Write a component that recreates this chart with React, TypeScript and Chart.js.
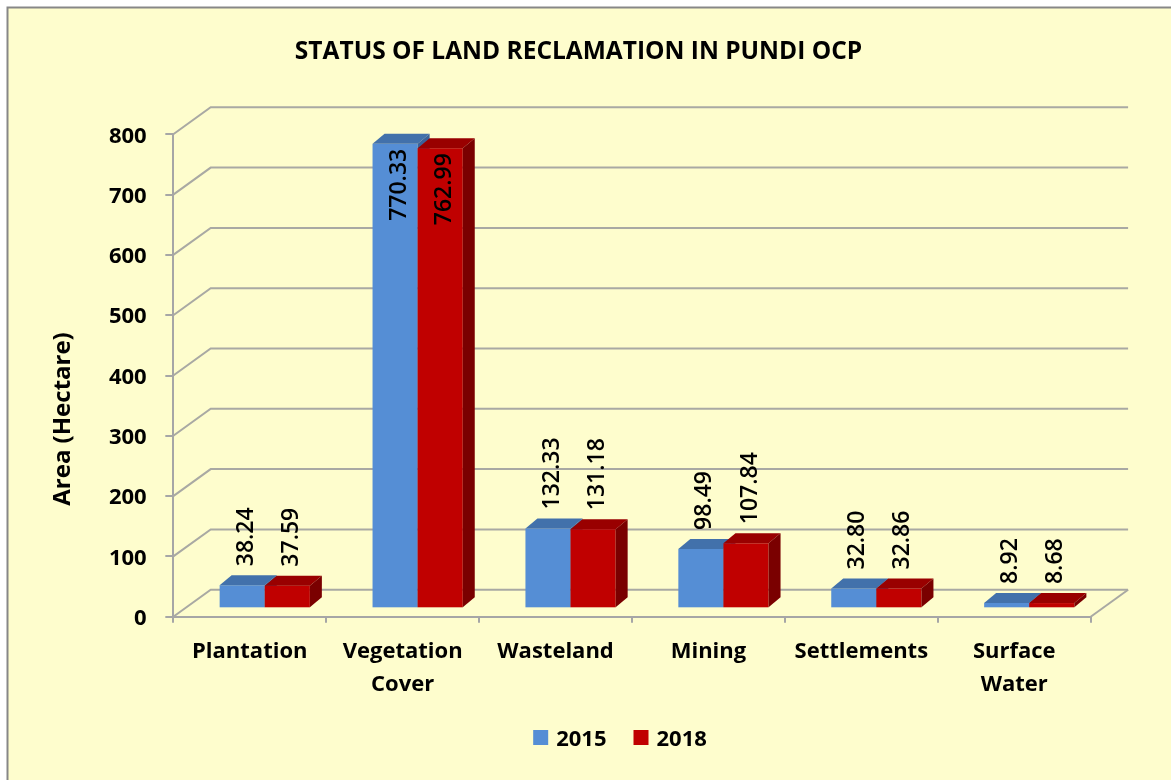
import React, { useEffect, useRef } from 'react';
import { Chart, registerables } from 'chart.js';

Chart.register(...registerables);

// ---------- data ----------
const categories: (string | string[])[] = [
  'Plantation',
  ['Vegetation', 'Cover'],
  'Wasteland',
  'Mining',
  'Settlements',
  ['Surface', 'Water'],
];
const seriesNames = ['2015', '2018'];
const values2015 = [38.24, 770.33, 132.33, 98.49, 32.8, 8.92];
const values2018 = [37.59, 762.99, 131.18, 107.84, 32.86, 8.68];
const yMin = 0;
const yMax = 800;
const yStep = 100;
const chartTitle = 'STATUS OF LAND RECLAMATION IN PUNDI OCP';
const yAxisTitle = 'Area (Hectare)';

// ---------- styles ----------
const FONT = "'Open Sans', 'Noto Sans', 'DejaVu Sans', sans-serif";
const BG = '#FEFDCD';
const BORDER = '#878787';
const GRID = '#a9a9a3';
const AXIS = '#a6a6a6';
const SERIES_STYLE = [
  { front: '#558ED5', top: '#4271AB', side: '#3A629A' },
  { front: '#C00000', top: '#990000', side: '#7A0000' },
];
const WALL_DX = 37.4;
const WALL_DY = 27;
const BAR_SHIFT_X = 15;
const BAR_SHIFT_Y = 8.4;
const BAR_DX = 12;
const BAR_DY = 10;
const LABEL_GAP = 19;

const threeDPlugin = {
  id: 'threeD',
  beforeDraw(chart: any) {
    const { ctx, width, height } = chart;
    ctx.save();
    ctx.fillStyle = '#ffffff';
    ctx.fillRect(0, 0, width, height);
    ctx.fillStyle = BG;
    ctx.fillRect(7, 7, width, height);
    ctx.strokeStyle = BORDER;
    ctx.lineWidth = 2;
    ctx.beginPath();
    ctx.moveTo(7.5, height + 5);
    ctx.lineTo(7.5, 7.5);
    ctx.lineTo(width + 5, 7.5);
    ctx.stroke();
    ctx.restore();
  },
  beforeDatasetsDraw(chart: any) {
    const { ctx, chartArea, scales } = chart;
    const y = scales.y;
    ctx.save();
    // back & side wall gridlines
    ctx.strokeStyle = GRID;
    ctx.lineWidth = 2;
    y.ticks.forEach((t: any) => {
      const py = y.getPixelForValue(t.value);
      ctx.beginPath();
      ctx.moveTo(chartArea.left, py);
      ctx.lineTo(chartArea.left + WALL_DX, py - WALL_DY);
      ctx.lineTo(chartArea.right + WALL_DX, py - WALL_DY);
      ctx.stroke();
    });
    const p0 = y.getPixelForValue(0);
    ctx.beginPath();
    ctx.moveTo(chartArea.right, p0);
    ctx.lineTo(chartArea.right + WALL_DX, p0 - WALL_DY);
    ctx.stroke();

    // 3D bars
    const n = chart.data.labels.length;
    const nd = chart.data.datasets.length;
    const boxes: any[] = [];
    for (let i = 0; i < n; i++) {
      for (let d = 0; d < nd; d++) {
        const el = chart.getDatasetMeta(d).data[i];
        const { x, y: yt, base, width } = el.getProps(['x', 'y', 'base', 'width'], true);
        const st = SERIES_STYLE[d];
        const x0 = x - width / 2 + BAR_SHIFT_X;
        const x1 = x + width / 2 + BAR_SHIFT_X;
        const top = yt - BAR_SHIFT_Y;
        const bot = base - BAR_SHIFT_Y;
        ctx.fillStyle = st.front;
        ctx.fillRect(x0, top, x1 - x0, bot - top);
        ctx.fillStyle = st.top;
        ctx.beginPath();
        ctx.moveTo(x0, top);
        ctx.lineTo(x0 + BAR_DX, top - BAR_DY);
        ctx.lineTo(x1 + BAR_DX, top - BAR_DY);
        ctx.lineTo(x1, top);
        ctx.closePath();
        ctx.fill();
        ctx.fillStyle = st.side;
        ctx.beginPath();
        ctx.moveTo(x1, top);
        ctx.lineTo(x1 + BAR_DX, top - BAR_DY);
        ctx.lineTo(x1 + BAR_DX, bot - BAR_DY);
        ctx.lineTo(x1, bot);
        ctx.closePath();
        ctx.fill();
        boxes.push({ cx: (x0 + x1) / 2 + 4, top, value: chart.data.datasets[d].data[i] });
      }
    }

    // value labels (rotated)
    ctx.font = `600 23px ${FONT}`;
    ctx.fillStyle = '#000';
    ctx.textBaseline = 'middle';
    boxes.forEach((b) => {
      const txt = Number(b.value).toFixed(2);
      const w = ctx.measureText(txt).width;
      const start = b.top - LABEL_GAP;
      ctx.save();
      if (start - w < chartArea.top - WALL_DY) {
        ctx.translate(b.cx, b.top + 5);
        ctx.rotate(-Math.PI / 2);
        ctx.textAlign = 'right';
      } else {
        ctx.translate(b.cx, start);
        ctx.rotate(-Math.PI / 2);
        ctx.textAlign = 'left';
      }
      ctx.fillText(txt, 0, 0);
      ctx.restore();
    });
    ctx.restore();
    return false;
  },
  afterDraw(chart: any) {
    const { ctx } = chart;
    ctx.save();
    ctx.fillStyle = '#000';
    // title
    ctx.font = `bold 24.5px ${FONT}`;
    ctx.textAlign = 'center';
    ctx.textBaseline = 'alphabetic';
    ctx.fillText(chartTitle, 578.5, 58.5);
    // y-axis title
    ctx.save();
    ctx.font = `bold 24px ${FONT}`;
    ctx.translate(70, 419);
    ctx.rotate(-Math.PI / 2);
    ctx.textAlign = 'center';
    ctx.fillText(yAxisTitle, 0, 0);
    ctx.restore();
    // legend
    ctx.font = `bold 22px ${FONT}`;
    ctx.textAlign = 'left';
    const box = 15;
    const gap = 8;
    const spacing = 27;
    const items = chart.data.datasets.map((ds: any) => ({
      text: ds.label,
      color: ds.backgroundColor,
      w: ctx.measureText(ds.label).width,
    }));
    const total =
      items.reduce((s: number, it: any) => s + box + gap + it.w, 0) + spacing * (items.length - 1);
    let x = 620 - total / 2;
    const baseY = 745.5;
    items.forEach((it: any) => {
      ctx.fillStyle = it.color;
      ctx.fillRect(x, 730, box, box);
      ctx.fillStyle = '#000';
      ctx.fillText(it.text, x + box + gap, baseY);
      x += box + gap + it.w + spacing;
    });
    ctx.restore();
  },
};

export default function App() {
  const canvasRef = useRef<HTMLCanvasElement | null>(null);

  useEffect(() => {
    const canvas = canvasRef.current;
    if (!canvas) return;
    const chart = new Chart(canvas, {
      type: 'bar',
      data: {
        labels: categories as any,
        datasets: [
          { label: seriesNames[0], data: values2015, backgroundColor: SERIES_STYLE[0].front },
          { label: seriesNames[1], data: values2018, backgroundColor: SERIES_STYLE[1].front },
        ],
      },
      options: {
        animation: false,
        responsive: true,
        maintainAspectRatio: false,
        layout: { padding: { top: 134.3, left: 0, right: 80.3, bottom: 63.3 } },
        datasets: { bar: { categoryPercentage: 0.59, barPercentage: 1.0 } } as any,
        plugins: {
          legend: { display: false },
          title: { display: false },
          tooltip: { enabled: false },
        },
        scales: {
          x: {
            grid: { display: true, drawOnChartArea: false, tickLength: 6, color: AXIS, lineWidth: 2, offset: true },
            border: { display: true, color: AXIS, width: 2 },
            ticks: {
              color: '#000',
              font: { family: FONT, size: 22, weight: 'bold', lineHeight: 1.5 },
              padding: 13,
              maxRotation: 0,
              minRotation: 0,
              autoSkip: false,
            },
            afterFit: (s: any) => {
              s.height = 100;
            },
          },
          y: {
            min: yMin,
            max: yMax,
            grid: { display: true, drawOnChartArea: false, tickLength: 8, color: AXIS, lineWidth: 2 },
            border: { display: true, color: AXIS, width: 2 },
            ticks: {
              stepSize: yStep,
              color: '#000',
              font: { family: FONT, size: 22, weight: 'bold' },
              padding: 18.6,
              labelOffset: 2,
            },
            afterFit: (s: any) => {
              s.width = 173.3;
            },
          },
        },
      },
      plugins: [threeDPlugin],
    });
    return () => chart.destroy();
  }, []);

  return (
    <div style={{ position: 'fixed', left: 0, top: 0, width: 1171, height: 780 }}>
      <canvas ref={canvasRef} />
    </div>
  );
}
